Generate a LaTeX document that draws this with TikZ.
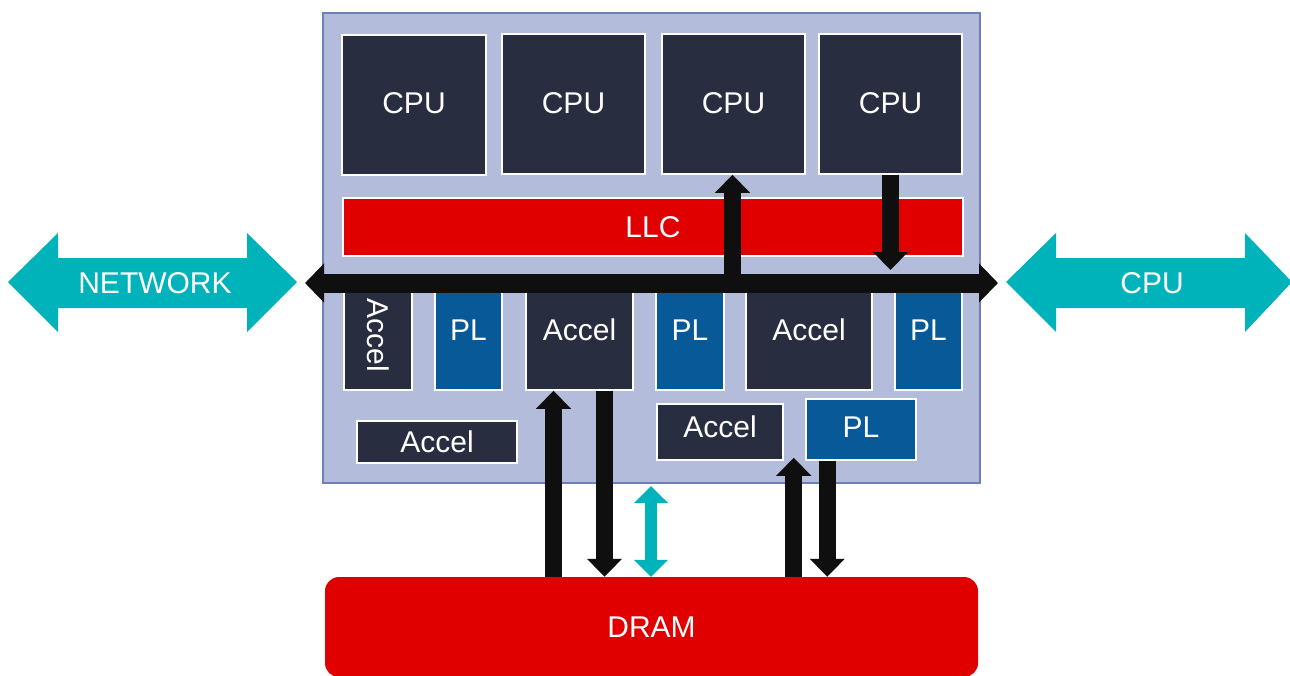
\documentclass[tikz,border=0pt]{standalone}
\usepackage{fontspec}
\setmainfont{Liberation Sans}
\usetikzlibrary{arrows.meta,calc}
\definecolor{navy}{HTML}{282D40}
\definecolor{plblue}{HTML}{075A97}
\definecolor{llcred}{HTML}{E00000}
\definecolor{chipbg}{HTML}{B3BCDA}
\definecolor{chipborder}{HTML}{6E7FBA}
\definecolor{teal}{HTML}{00B3BA}
\definecolor{arrowblack}{HTML}{0F0F0F}
\newcommand\lblfont{\fontsize{30}{36}\selectfont}
\begin{document}
\begin{tikzpicture}[x=1pt,y=-1pt,
  box/.style={draw=white, line width=1.5pt, text=white, font=\lblfont, inner sep=0pt},
  navybox/.style={box, fill=navy},
  plbox/.style={box, fill=plblue},
  lab/.style={text=white, font=\lblfont, inner sep=0pt},
  blk/.style={draw=arrowblack, line width=17pt, -{Triangle[length=18pt,width=34pt]}},
  tealarrow/.style={fill=teal}
]
\useasboundingbox (0,0) rectangle (1290,675);

% chip
\node[draw=chipborder, fill=chipbg, line width=2pt, minimum width=657, minimum height=470, inner sep=0pt] (chip) at (651.5,248) {};

% CPUs
\node[navybox, minimum width=144, minimum height=140] (cpu1) at (414,105) {\raisebox{4pt}{CPU}};
\node[navybox, minimum width=143, minimum height=140] (cpu2) at (573.5,104) {\raisebox{2pt}{CPU}};
\node[navybox, minimum width=143, minimum height=140] (cpu3) at (733.5,104) {\raisebox{2pt}{CPU}};
\node[navybox, minimum width=143, minimum height=140] (cpu4) at (890.5,104) {\raisebox{2pt}{CPU}};

% LLC
\node[box, fill=llcred, minimum width=620, minimum height=58] (llc) at (653,227) {LLC};

% lower row
\node[navybox, minimum width=68, minimum height=100] (acc1) at (378,340) {};
\node[lab, rotate=-90] (acc1t) at (378,335) {Accel};
\node[plbox, minimum width=67, minimum height=100] (pl1) at (468.5,340) {\raisebox{20pt}{PL}};
\node[navybox, minimum width=107, minimum height=100] (acc2) at (579.5,340) {\raisebox{20pt}{Accel}};
\node[plbox, minimum width=68, minimum height=100] (pl2) at (690,340) {\raisebox{20pt}{PL}};
\node[navybox, minimum width=126, minimum height=100] (acc3) at (809,340) {\raisebox{20pt}{Accel}};
\node[plbox, minimum width=67, minimum height=100] (pl3) at (928.5,340) {\raisebox{20pt}{PL}};

% bottom row inside chip
\node[navybox, minimum width=160, minimum height=42] (acc4) at (437,442) {Accel};
\node[navybox, minimum width=126, minimum height=56] (acc5) at (720,432) {\raisebox{10pt}{Accel}};
\node[plbox, minimum width=110, minimum height=61] (pl4) at (861,429.5) {\raisebox{4pt}{PL}};

% DRAM
\node[fill=llcred, rounded corners=14pt, minimum width=653, minimum height=100, text=white, font=\lblfont, inner sep=0pt] (dram) at (651.5,627) {DRAM};

% bus
\coordinate (busL) at (305,283);
\coordinate (busR) at (998,283);
\draw[blk] ([xshift=-1pt]cpu3.south |- busL) -- ([xshift=-1pt]cpu3.south);
\draw[blk] (cpu4.south) -- ([yshift=13pt]cpu4.south |- busL);
\draw[draw=arrowblack, line width=19pt, {Triangle[length=19pt,width=38pt]}-{Triangle[length=19pt,width=38pt]}] (busL) -- (busR);

% arrows to DRAM
\draw[blk] ([xshift=-26pt]acc2.south |- dram.north) -- ([xshift=-26pt]acc2.south);
\draw[blk] ([xshift=25pt]acc2.south) -- ([xshift=25pt]acc2.south |- dram.north);
\coordinate (tt) at (651,486);
\draw[draw=teal, line width=12pt, {Triangle[length=17pt,width=33pt]}-{Triangle[length=17pt,width=33pt]}] (tt) -- (tt |- dram.north);
\draw[blk] ([xshift=10pt]acc5.south east |- dram.north) -- ([xshift=10pt,yshift=3pt]acc5.south east);
\draw[blk] ([xshift=22pt]pl4.south west) -- ([xshift=22pt]pl4.south west |- dram.north);

% external double arrows
\fill[tealarrow] (8,282) -- (58,233) -- (58,258) -- (247,258) -- (247,233) -- (297,282) -- (247,332) -- (247,308) -- (58,308) -- (58,332) -- cycle;
\node[lab] (net) at (155,283) {NETWORK};
\fill[tealarrow] (1006,282) -- (1056,233) -- (1056,258) -- (1245,258) -- (1245,233) -- (1292,282) -- (1245,332) -- (1245,308) -- (1056,308) -- (1056,332) -- cycle;
\node[lab] (cpux) at (1152,283) {CPU};
\end{tikzpicture}
\end{document}
